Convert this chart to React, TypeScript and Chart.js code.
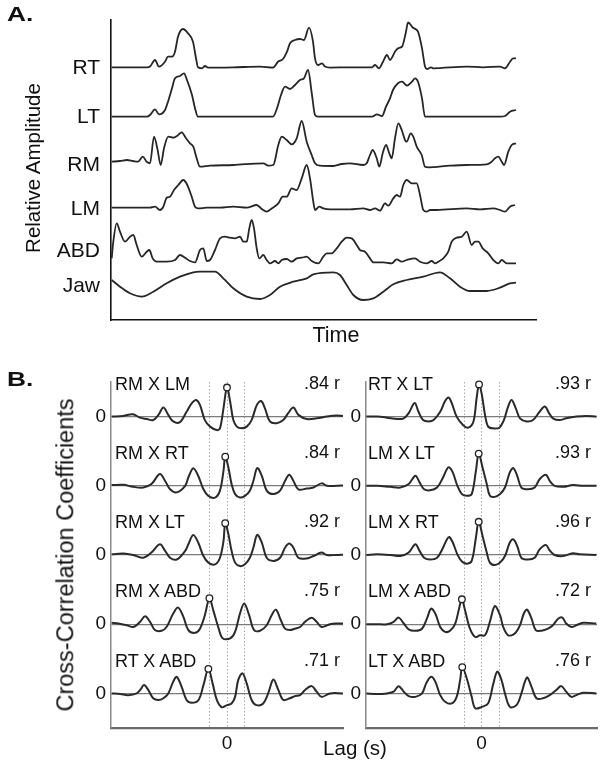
import React, { useEffect, useRef } from "react";
import { Chart, registerables } from "chart.js";

Chart.register(...registerables);

const FONT = '"Liberation Sans", Arial, Helvetica, sans-serif';

// ---------------- Panel A: traces (time, relative amplitude) ----------------
const TRACE_NAMES = ["RT", "LT", "RM", "LM", "ABD", "Jaw"];
const TRACE_LABEL_LEVELS = [25.2, 20.3, 15.45, 11.1, 6.9, 3.33];
const TRACE_BASELINES = [25.27, 20.33, 15.5, 11.23, 5.83, 3.5];

const RT_TRACE = [[0.007,0],[0.22,0],[0.36,0],[0.39,0.07],[0.44,0.73],[0.48,0.07],[0.54,0.56],[0.57,1.06],[0.61,1.06],[0.64,1.56],[0.67,3.06],[0.72,3.83],[0.77,3.4],[0.82,2.56],[0.85,0.9],[0.87,0],[0.91,-0.1],[0.94,0.13],[0.97,-0.03],[1.22,0],[1.49,0.07],[1.62,-0.03],[1.67,0.56],[1.72,0.83],[1.76,1.56],[1.79,2.4],[1.84,2.73],[1.89,2.83],[1.93,2.73],[1.98,3.96],[2.02,2.56],[2.04,0.9],[2.07,0.23],[2.11,0.4],[2.14,0.07],[2.19,-0.03],[2.39,0],[2.61,0],[2.64,0.23],[2.68,-0.1],[2.72,0.56],[2.76,1.23],[2.79,0.73],[2.84,1.56],[2.87,1.9],[2.91,2.06],[2.95,3.56],[2.97,4.5],[3.02,3.96],[3.07,3.56],[3.11,1.9],[3.14,0.07],[3.16,-0.17],[3.2,0],[3.22,-0.1],[3.56,0.07],[3.72,0],[3.89,0.07],[3.94,-0.1],[3.99,0.56],[4.02,0.9],[4.05,0.9]];
const LT_TRACE = [[0.007,0],[0.36,0],[0.39,0.17],[0.44,0.73],[0.48,0.23],[0.54,0.67],[0.57,1.5],[0.61,2.84],[0.64,3.84],[0.69,4.07],[0.73,4.34],[0.76,3.67],[0.81,2.17],[0.84,0.84],[0.87,0],[1.22,0],[1.62,0],[1.66,0.84],[1.7,2.17],[1.74,3.0],[1.79,2.77],[1.84,3.17],[1.89,3.67],[1.93,3.84],[1.97,4.67],[2.01,2.17],[2.04,0.17],[2.07,0],[2.61,0],[2.66,0.23],[2.71,0.07],[2.75,1.0],[2.79,1.84],[2.82,2.67],[2.87,3.34],[2.91,3.5],[2.96,3.1],[3.01,3.5],[3.04,3.84],[3.07,3.5],[3.11,1.84],[3.14,0],[3.56,0],[3.89,0],[3.94,0.07],[3.99,0.5],[4.05,0.67]];
const RM_TRACE = [[0.007,0.33],[0.09,0.4],[0.16,0.5],[0.22,0.4],[0.27,0.33],[0.317,0.83],[0.357,0.33],[0.39,0.17],[0.43,2.83],[0.463,1.67],[0.497,0],[0.53,1.67],[0.573,2.83],[0.623,2.73],[0.663,2.93],[0.707,3.27],[0.75,2.67],[0.79,2.17],[0.823,1.83],[0.857,0.67],[0.89,-0.17],[0.99,-0.07],[1.223,0],[1.523,0.17],[1.573,-0.07],[1.623,0],[1.673,2.0],[1.707,2.83],[1.757,2.5],[1.807,2.07],[1.857,2.67],[1.907,4.4],[1.957,2.33],[2.007,1.0],[2.04,0.17],[2.09,-0.07],[2.223,-0.1],[2.307,0.1],[2.39,0.17],[2.523,0],[2.557,0.17],[2.59,1.0],[2.617,1.5],[2.657,0.67],[2.683,-0.17],[2.717,1.17],[2.75,2.0],[2.783,1.17],[2.807,0.67],[2.84,2.67],[2.873,4.17],[2.907,3.5],[2.94,2.5],[2.957,2.33],[2.997,3.17],[3.023,2.83],[3.057,1.83],[3.107,1.0],[3.14,-0.17],[3.173,-0.23],[3.39,-0.07],[3.557,0],[3.757,0.07],[3.807,0.33],[3.84,0.67],[3.873,0.83],[3.907,0.33],[3.93,0],[3.973,1.33],[4.007,2.0],[4.05,2.17]];
const LM_TRACE = [[0.007,0],[0.223,0],[0.39,0],[0.44,0.1],[0.49,-0.23],[0.523,0.1],[0.557,1.0],[0.59,1.1],[0.63,1.77],[0.673,2.27],[0.723,2.77],[0.763,2.27],[0.807,1.1],[0.84,0.1],[0.873,-0.07],[0.957,0],[1.09,0],[1.223,0.1],[1.357,0],[1.457,0.27],[1.507,-0.13],[1.557,-0.4],[1.607,-0.07],[1.673,0.43],[1.717,1.1],[1.757,1.1],[1.807,1.93],[1.857,1.77],[1.907,2.93],[1.957,4.27],[1.99,2.93],[2.023,0.6],[2.04,-0.23],[2.083,0.1],[2.123,-0.07],[2.19,-0.17],[2.39,-0.17],[2.523,-0.07],[2.59,-0.23],[2.64,-0.07],[2.69,-0.3],[2.74,0.43],[2.773,0.2],[2.823,0.93],[2.857,1.27],[2.89,1.1],[2.923,2.27],[2.957,2.77],[3.007,2.43],[3.057,2.43],[3.09,1.27],[3.123,-0.23],[3.157,-0.4],[3.19,-0.23],[3.257,-0.23],[3.557,-0.07],[3.69,-0.17],[3.823,-0.07],[3.89,-0.23],[3.94,-0.4],[3.99,0.1],[4.04,0.27]];
const ABD_TRACE = [[0.007,0.33],[0.023,2.0],[0.057,3.84],[0.09,3.0],[0.14,2.0],[0.19,2.5],[0.223,2.67],[0.257,1.67],[0.307,0.5],[0.357,1.0],[0.383,1.17],[0.417,0.33],[0.457,0],[0.557,0],[0.64,0.17],[0.69,0.67],[0.74,0.4],[0.79,0.07],[0.84,-0.07],[0.89,1.17],[0.923,1.33],[0.957,0.07],[0.99,0.17],[1.04,1.17],[1.09,2.33],[1.14,2.5],[1.19,2.4],[1.24,2.33],[1.29,2.5],[1.323,2.0],[1.357,2.0],[1.383,3.33],[1.407,4.17],[1.43,3.33],[1.457,1.33],[1.483,0.33],[1.523,0.67],[1.557,0.17],[1.59,-0.17],[1.64,0.07],[1.673,-0.17],[1.707,0.17],[1.757,0.27],[1.807,0],[1.857,0.33],[1.907,0.4],[1.957,0.5],[2.007,0.07],[2.073,-0.17],[2.123,0.5],[2.157,0.84],[2.207,0.84],[2.257,1.33],[2.307,2.0],[2.357,2.4],[2.407,2.33],[2.457,1.67],[2.49,1.17],[2.54,1.0],[2.59,0.33],[2.623,-0.07],[2.723,-0.07],[2.807,-0.17],[2.857,0.23],[2.907,0],[2.957,0.17],[3.04,0.33],[3.09,0],[3.157,-0.17],[3.207,0.07],[3.24,-0.17],[3.273,0],[3.323,0.33],[3.373,1.0],[3.407,2.0],[3.457,2.4],[3.507,2.5],[3.557,3.0],[3.607,1.67],[3.64,2.0],[3.673,2.0],[3.717,1.33],[3.773,0.84],[3.823,0.17],[3.873,-0.17],[3.907,0.17],[3.957,-0.17],[4.05,-0.17]];
const JAW_TRACE = [[0.007,0.5],[0.09,-0.17],[0.19,-0.83],[0.307,-1.17],[0.423,-0.67],[0.557,0.17],[0.69,0.83],[0.823,1.27],[0.89,1.33],[1.04,1.33],[1.123,0.67],[1.223,-0.33],[1.357,-1.17],[1.49,-1.4],[1.59,-1.0],[1.69,-0.17],[1.823,0.33],[1.957,0.67],[2.023,1.07],[2.223,1.27],[2.29,1.0],[2.357,0],[2.423,-1.0],[2.523,-1.5],[2.623,-1.33],[2.723,-0.67],[2.823,0.07],[2.957,0.5],[3.123,0.83],[3.29,1.27],[3.39,0.67],[3.49,-0.17],[3.59,-0.6],[3.757,-0.6],[3.89,-0.27],[3.99,0.17],[4.05,0.23]];

// ---------------- Panel B: cross-correlations (lag, r) ----------------
const ROW_ZERO_LEVELS = [9, 7, 5, 3, 1];
const LAG_MARKS = [-0.5, 0, 0.5];

const LEFT_PAIRS = ["RM X LM", "RM X RT", "RM X LT", "RM X ABD", "RT X ABD"];
const LEFT_R = [0.84, 0.84, 0.92, 0.75, 0.71];
const LEFT_PEAK_LAG = [0, -0.05, -0.05, -0.5, -0.53];

const RIGHT_PAIRS = ["RT X LT", "LM X LT", "LM X RT", "LM X ABD", "LT X ABD"];
const RIGHT_R = [0.93, 0.93, 0.96, 0.72, 0.76];
const RIGHT_PEAK_LAG = [-0.07, -0.08, -0.08, -0.56, -0.55];

const CC_RM_LM = [[-3.28,0],[-2.95,0.02],[-2.68,0.07],[-2.48,-0.03],[-2.28,-0.07],[-2.1,-0.1],[-1.95,0.05],[-1.81,0.26],[-1.67,0.05],[-1.53,-0.14],[-1.34,-0.16],[-1.15,0.14],[-1.0,0.39],[-0.88,0.48],[-0.77,0.34],[-0.63,-0.1],[-0.48,-0.29],[-0.29,-0.39],[-0.2,-0.34],[-0.1,0.24],[0,0.84],[0.09,0.43],[0.18,-0.1],[0.28,-0.29],[0.42,-0.34],[0.56,-0.29],[0.7,-0.1],[0.85,0.34],[0.97,0.45],[1.08,0.24],[1.22,-0.14],[1.41,-0.19],[1.6,-0.1],[1.74,0.1],[1.89,0.26],[2.03,0.05],[2.27,-0.07],[2.55,-0.05],[2.84,0],[3.12,0.03],[3.3,0.02]];
const CC_RM_RT = [[-3.28,0.02],[-2.95,0.03],[-2.67,-0.03],[-2.38,-0.05],[-2.15,0.05],[-1.91,0.34],[-1.76,0.14],[-1.62,-0.1],[-1.43,-0.19],[-1.19,0],[-1.1,0.24],[-0.96,0.51],[-0.82,0.29],[-0.67,-0.1],[-0.53,-0.29],[-0.34,-0.34],[-0.2,-0.14],[-0.1,0.43],[-0.05,0.84],[0.04,0.53],[0.13,0.05],[0.23,-0.24],[0.37,-0.34],[0.51,-0.29],[0.65,-0.14],[0.75,0.14],[0.86,0.51],[0.99,0.29],[1.13,-0.14],[1.32,-0.24],[1.51,-0.14],[1.65,0.14],[1.77,0.32],[1.89,0.14],[2.03,-0.1],[2.27,-0.08],[2.46,-0.05],[2.69,0.07],[2.84,0],[3.12,0],[3.3,0.01]];
const CC_RM_LT = [[-3.28,0.02],[-2.95,0.04],[-2.67,0],[-2.38,-0.08],[-2.15,0.07],[-1.91,0.31],[-1.76,0.12],[-1.62,-0.08],[-1.43,-0.13],[-1.19,0.12],[-1.1,0.31],[-0.96,0.58],[-0.82,0.36],[-0.67,-0.03],[-0.53,-0.22],[-0.34,-0.27],[-0.2,-0.08],[-0.1,0.4],[-0.05,0.92],[0.04,0.6],[0.13,0.12],[0.23,-0.22],[0.37,-0.32],[0.51,-0.27],[0.65,-0.08],[0.75,0.21],[0.86,0.58],[0.99,0.36],[1.13,-0.08],[1.32,-0.17],[1.51,-0.08],[1.65,0.21],[1.77,0.33],[1.89,0.21],[2.03,-0.08],[2.27,-0.1],[2.46,-0.03],[2.69,0.07],[2.84,0],[3.12,0],[3.3,0.01]];
const CC_RM_ABD = [[-3.28,0.04],[-3.09,0.02],[-2.85,-0.03],[-2.66,-0.08],[-2.47,0.07],[-2.33,0.23],[-2.19,0.07],[-2.05,-0.17],[-1.86,-0.19],[-1.72,-0.08],[-1.53,0.31],[-1.39,0.48],[-1.24,0.21],[-1.1,-0.17],[-0.91,-0.25],[-0.77,-0.13],[-0.63,0.26],[-0.5,0.75],[-0.39,0.4],[-0.25,-0.08],[-0.12,-0.41],[0.09,-0.41],[0.23,-0.22],[0.37,0.31],[0.49,0.6],[0.63,0.26],[0.77,-0.17],[0.94,-0.19],[1.13,-0.03],[1.27,0.26],[1.39,0.42],[1.53,0.12],[1.65,-0.13],[1.79,-0.17],[1.93,-0.13],[2.08,-0.08],[2.22,0.07],[2.41,0.19],[2.55,0.07],[2.69,-0.08],[2.93,0],[3.12,0.02],[3.3,0.02]];
const CC_RT_ABD = [[-3.28,0],[-3.04,-0.02],[-2.81,-0.05],[-2.57,0],[-2.47,0.1],[-2.36,0.24],[-2.24,0.1],[-2.1,-0.14],[-1.95,-0.19],[-1.81,-0.14],[-1.67,0],[-1.53,0.34],[-1.43,0.48],[-1.29,0.19],[-1.15,-0.19],[-1.0,-0.27],[-0.81,-0.19],[-0.67,0.24],[-0.53,0.71],[-0.41,0.29],[-0.29,-0.19],[-0.15,-0.4],[0,-0.34],[0.13,-0.29],[0.23,-0.1],[0.32,0.39],[0.44,0.58],[0.56,0.29],[0.7,-0.19],[0.84,-0.34],[1.03,-0.29],[1.17,0],[1.32,0.4],[1.46,0.1],[1.6,-0.19],[1.79,-0.14],[1.93,-0.08],[2.08,-0.05],[2.22,0.1],[2.41,0.21],[2.55,0.05],[2.69,-0.1],[2.93,0],[3.3,0]];

const CC_RT_LT = [[-3.29,0],[-2.98,0],[-2.7,-0.03],[-2.41,-0.07],[-2.22,-0.05],[-2.08,0.1],[-1.91,0.39],[-1.8,0.14],[-1.67,-0.1],[-1.51,-0.14],[-1.37,-0.1],[-1.18,0.14],[-1.04,0.45],[-0.94,0.55],[-0.85,0.39],[-0.71,0],[-0.53,-0.24],[-0.38,-0.32],[-0.23,-0.14],[-0.14,0.53],[-0.07,0.93],[0.01,0.63],[0.1,0.05],[0.19,-0.29],[0.34,-0.34],[0.51,-0.32],[0.64,-0.1],[0.76,0.29],[0.86,0.48],[0.98,0.24],[1.1,-0.05],[1.29,-0.14],[1.47,-0.1],[1.66,0.14],[1.81,0.29],[1.93,0.1],[2.04,-0.05],[2.23,-0.1],[2.42,-0.05],[2.71,0],[2.99,0.02],[3.28,0]];
const CC_LM_LT = [[-3.29,0],[-2.98,0],[-2.6,-0.03],[-2.32,-0.05],[-2.08,0.05],[-1.89,0.29],[-1.77,0.1],[-1.64,-0.1],[-1.47,-0.13],[-1.27,-0.05],[-1.1,0.24],[-0.99,0.48],[-0.92,0.53],[-0.82,0.39],[-0.69,0],[-0.56,-0.24],[-0.42,-0.29],[-0.28,-0.24],[-0.16,0.43],[-0.08,0.93],[0.03,0.53],[0.15,0.05],[0.24,-0.29],[0.38,-0.32],[0.53,-0.24],[0.67,-0.05],[0.81,0.39],[0.91,0.51],[1.02,0.29],[1.14,-0.05],[1.33,-0.1],[1.52,-0.05],[1.66,0.19],[1.84,0.32],[1.95,0.14],[2.09,0],[2.33,-0.03],[2.61,0.02],[2.9,0],[3.28,0]];
const CC_LM_RT = [[-3.29,0],[-2.98,0.02],[-2.6,0],[-2.32,-0.03],[-2.08,0.07],[-1.89,0.31],[-1.77,0.12],[-1.64,-0.08],[-1.47,-0.13],[-1.27,-0.08],[-1.1,0.21],[-0.99,0.45],[-0.92,0.52],[-0.82,0.36],[-0.69,0.02],[-0.56,-0.19],[-0.42,-0.25],[-0.28,-0.17],[-0.16,0.5],[-0.08,0.96],[0.03,0.55],[0.15,0.07],[0.24,-0.22],[0.38,-0.29],[0.53,-0.22],[0.67,-0.03],[0.81,0.36],[0.91,0.45],[1.02,0.26],[1.14,-0.08],[1.33,-0.13],[1.52,-0.08],[1.66,0.16],[1.84,0.29],[1.95,0.13],[2.09,0],[2.33,-0.03],[2.61,0.05],[2.8,0.02],[3.28,0]];
const CC_LM_ABD = [[-3.29,0],[-2.98,0],[-2.7,0],[-2.51,0.07],[-2.37,0.19],[-2.22,0.02],[-2.08,-0.15],[-1.89,-0.19],[-1.7,-0.13],[-1.56,0.16],[-1.44,0.45],[-1.32,0.31],[-1.18,-0.08],[-1.04,-0.22],[-0.9,-0.19],[-0.75,0.02],[-0.63,0.5],[-0.56,0.72],[-0.47,0.4],[-0.33,-0.13],[-0.18,-0.37],[-0.04,-0.32],[0.1,-0.32],[0.24,0.07],[0.38,0.52],[0.53,0.26],[0.62,-0.08],[0.76,-0.32],[0.95,-0.27],[1.1,-0.03],[1.21,0.31],[1.3,0.42],[1.43,0.16],[1.55,-0.17],[1.71,-0.19],[1.9,-0.13],[2.04,-0.03],[2.19,0.16],[2.31,0.19],[2.42,0.02],[2.57,-0.08],[2.71,-0.03],[2.9,0.04],[3.28,0.02]];
const CC_LT_ABD = [[-3.29,0],[-2.98,-0.02],[-2.7,0],[-2.51,0.05],[-2.37,0.21],[-2.22,0.05],[-2.08,-0.08],[-1.89,-0.1],[-1.7,0],[-1.58,0.29],[-1.44,0.48],[-1.32,0.34],[-1.18,-0.05],[-1.04,-0.24],[-0.85,-0.29],[-0.71,-0.1],[-0.61,0.39],[-0.55,0.76],[-0.42,0.43],[-0.28,-0.1],[-0.18,-0.43],[0.01,-0.39],[0.19,-0.29],[0.34,0.29],[0.45,0.63],[0.57,0.39],[0.67,0],[0.81,-0.39],[1.0,-0.34],[1.14,0],[1.24,0.34],[1.31,0.46],[1.43,0.19],[1.57,-0.14],[1.76,-0.14],[1.95,-0.05],[2.14,0.1],[2.28,0.21],[2.42,0.05],[2.57,-0.1],[2.71,-0.05],[2.9,0.02],[3.28,0]];

const LEFT_CC = [CC_RM_LM, CC_RM_RT, CC_RM_LT, CC_RM_ABD, CC_RT_ABD];
const RIGHT_CC = [CC_RT_LT, CC_LM_LT, CC_LM_RT, CC_LM_ABD, CC_LT_ABD];

// ---------------- layout constants ----------------
const W = 604;
const H = 769;
const B_CANVAS_TOP = 360;
const B_CANVAS_H = 409;
const B_TOP = 382;
const B_BOTTOM = 728;
const B_YMAX = 10;
const zeroPx = (lvl: number) => B_TOP + ((B_YMAX - lvl) / B_YMAX) * (B_BOTTOM - B_TOP);
const fmtR = (r: number) => r.toFixed(2).replace(/^0/, "") + " r";

const fixBox = (dim: "width" | "height", size: number) => (s: any) => {
  s[dim] = size;
  s.paddingTop = 0;
  s.paddingBottom = 0;
  s.paddingLeft = 0;
  s.paddingRight = 0;
};

function panelAConfig(): any {
  const traces = [RT_TRACE, LT_TRACE, RM_TRACE, LM_TRACE, ABD_TRACE, JAW_TRACE];
  return {
    type: "line",
    data: {
      datasets: traces.map((tr, i) => ({
        label: TRACE_NAMES[i],
        data: tr.map(([t, a]) => ({ x: t, y: a + TRACE_BASELINES[i] })),
        borderColor: "#262626",
        borderWidth: 1.8,
        pointRadius: 0,
        cubicInterpolationMode: "monotone",
        fill: false,
      })),
    },
    options: {
      responsive: false,
      animation: false,
      events: [],
      layout: { padding: { left: 0, top: 20, right: 68, bottom: 25 } },
      plugins: { legend: { display: false }, tooltip: { enabled: false } },
      scales: {
        x: {
          type: "linear", min: 0, max: 4.25,
          afterFit: fixBox("height", 0),
          grid: { display: false, drawTicks: false },
          ticks: { display: false },
          border: { display: true, color: "#111", width: 1.6 },
        },
        y: {
          type: "linear", min: 0, max: 30,
          afterFit: fixBox("width", 111),
          afterBuildTicks: (s: any) => { s.ticks = TRACE_LABEL_LEVELS.map((v) => ({ value: v })); },
          grid: { display: false, drawTicks: false },
          ticks: {
            autoSkip: false, padding: 11, color: "#111",
            font: { family: FONT, size: 21 },
            callback: (_v: any, i: number) => TRACE_NAMES[i],
          },
          border: { display: true, color: "#111", width: 1.6 },
        },
      },
    },
  };
}

function panelBConfig(series: number[][][], peaksLag: number[], peaksR: number[], axisLeft: number, padRight: number): any {
  const lines = series.map((s, i) => ({
    data: s.map(([lag, r]) => ({ x: lag, y: r + ROW_ZERO_LEVELS[i] })),
    borderColor: "#2a2a2a",
    borderWidth: 2,
    pointRadius: 0,
    tension: 0.35,
    fill: false,
    order: 1,
  }));
  const circles = {
    type: "scatter",
    data: peaksLag.map((lag, i) => ({ x: lag, y: peaksR[i] + ROW_ZERO_LEVELS[i] })),
    showLine: false,
    clip: false,
    pointRadius: 3.3,
    pointBorderWidth: 1.3,
    pointBackgroundColor: "#ffffff",
    pointBorderColor: "#222",
    order: 0,
  };
  return {
    type: "line",
    data: { datasets: [circles, ...lines] },
    options: {
      responsive: false,
      animation: false,
      events: [],
      layout: { padding: { left: 0, top: B_TOP - B_CANVAS_TOP, right: padRight, bottom: 0 } },
      plugins: { legend: { display: false }, tooltip: { enabled: false } },
      scales: {
        x: {
          type: "linear", min: -3.3, max: 3.3,
          afterFit: fixBox("height", B_CANVAS_TOP + B_CANVAS_H - B_BOTTOM),
          afterBuildTicks: (s: any) => { s.ticks = LAG_MARKS.map((v) => ({ value: v })); },
          grid: { display: true, drawTicks: false, color: "#a9a9a9", lineWidth: 1 },
          border: { display: true, color: "#6a6a6a", width: 2.2, dash: [1.5, 2] },
          ticks: {
            autoSkip: false, maxRotation: 0, padding: 4, color: "#111",
            font: { family: FONT, size: 19 },
            callback: (v: any) => (Number(v) === 0 ? "0" : ""),
          },
        },
        y: {
          type: "linear", min: 0, max: B_YMAX,
          afterFit: fixBox("width", axisLeft),
          afterBuildTicks: (s: any) => { s.ticks = ROW_ZERO_LEVELS.map((v) => ({ value: v })); },
          grid: { display: true, drawTicks: false, color: "#7c7c7c", lineWidth: 1.3 },
          border: { display: true, color: "#8a8a8a", width: 1.5 },
          ticks: {
            autoSkip: false, padding: 5, color: "#111",
            font: { family: FONT, size: 19 },
            callback: () => "0",
          },
        },
      },
    },
  };
}

function ChartCanvas({ make, left, top, width, height }: any) {
  const ref = useRef<HTMLCanvasElement>(null);
  useEffect(() => {
    const chart = new Chart(ref.current as HTMLCanvasElement, make());
    return () => chart.destroy();
  }, []);
  return (
    <canvas
      ref={ref}
      width={width}
      height={height}
      style={{ position: "absolute", left, top, width, height }}
    />
  );
}

function Txt({ x, base, size, align = "left", bold = false, scaleX = 1, children }: any) {
  const style: any = {
    position: "absolute",
    top: base - 0.8465 * size,
    fontSize: size,
    lineHeight: `${size}px`,
    fontFamily: FONT,
    fontWeight: bold ? "bold" : "normal",
    whiteSpace: "nowrap",
    color: "#111",
  };
  if (align === "left") {
    style.left = x;
    if (scaleX !== 1) { style.transform = `scaleX(${scaleX})`; style.transformOrigin = "left"; }
  } else if (align === "right") {
    style.right = W - x;
  } else {
    style.left = x;
    style.transform = "translateX(-50%)";
  }
  return <div style={style}>{children}</div>;
}

function VTxt({ cx, cy, size, children }: any) {
  return (
    <div
      style={{
        position: "absolute", left: cx, top: cy,
        transform: "translate(-50%, -50%) rotate(-90deg)",
        fontSize: size, lineHeight: `${size}px`, fontFamily: FONT,
        whiteSpace: "nowrap", color: "#111",
      }}
    >
      {children}
    </div>
  );
}

export default function App() {
  return (
    <div style={{ position: "absolute", left: 0, top: 0, width: W, height: H, background: "#fff", overflow: "hidden" }}>
      <ChartCanvas make={panelAConfig} left={0} top={0} width={604} height={345} />
      <ChartCanvas make={() => panelBConfig(LEFT_CC, LEFT_PEAK_LAG, LEFT_R, 111, 7)} left={0} top={B_CANVAS_TOP} width={350} height={B_CANVAS_H} />
      <ChartCanvas make={() => panelBConfig(RIGHT_CC, RIGHT_PEAK_LAG, RIGHT_R, 64, 7)} left={302} top={B_CANVAS_TOP} width={302} height={B_CANVAS_H} />

      <Txt x={7} base={22} size={19.5} bold scaleX={1.35}>A.</Txt>
      <Txt x={7} base={387} size={19.5} bold scaleX={1.35}>B.</Txt>

      <VTxt cx={33} cy={167.5} size={20.5}>Relative Amplitude</VTxt>
      <Txt x={336} base={342.7} size={21.5} align="center">Time</Txt>

      <VTxt cx={66} cy={555} size={23.5}>Cross-Correlation Coefficients</VTxt>
      <Txt x={355} base={755} size={20.5} align="center">Lag (s)</Txt>

      {LEFT_PAIRS.map((name, i) => (
        <Txt key={"lp" + i} x={115} base={zeroPx(ROW_ZERO_LEVELS[i]) - 26.5} size={18}>{name}</Txt>
      ))}
      {LEFT_R.map((r, i) => (
        <Txt key={"lr" + i} x={340} base={zeroPx(ROW_ZERO_LEVELS[i]) - 27.5} size={18} align="right">{fmtR(r)}</Txt>
      ))}
      {RIGHT_PAIRS.map((name, i) => (
        <Txt key={"rp" + i} x={368} base={zeroPx(ROW_ZERO_LEVELS[i]) - 26.5} size={18}>{name}</Txt>
      ))}
      {RIGHT_R.map((r, i) => (
        <Txt key={"rr" + i} x={591} base={zeroPx(ROW_ZERO_LEVELS[i]) - 27.5} size={18} align="right">{fmtR(r)}</Txt>
      ))}
    </div>
  );
}
